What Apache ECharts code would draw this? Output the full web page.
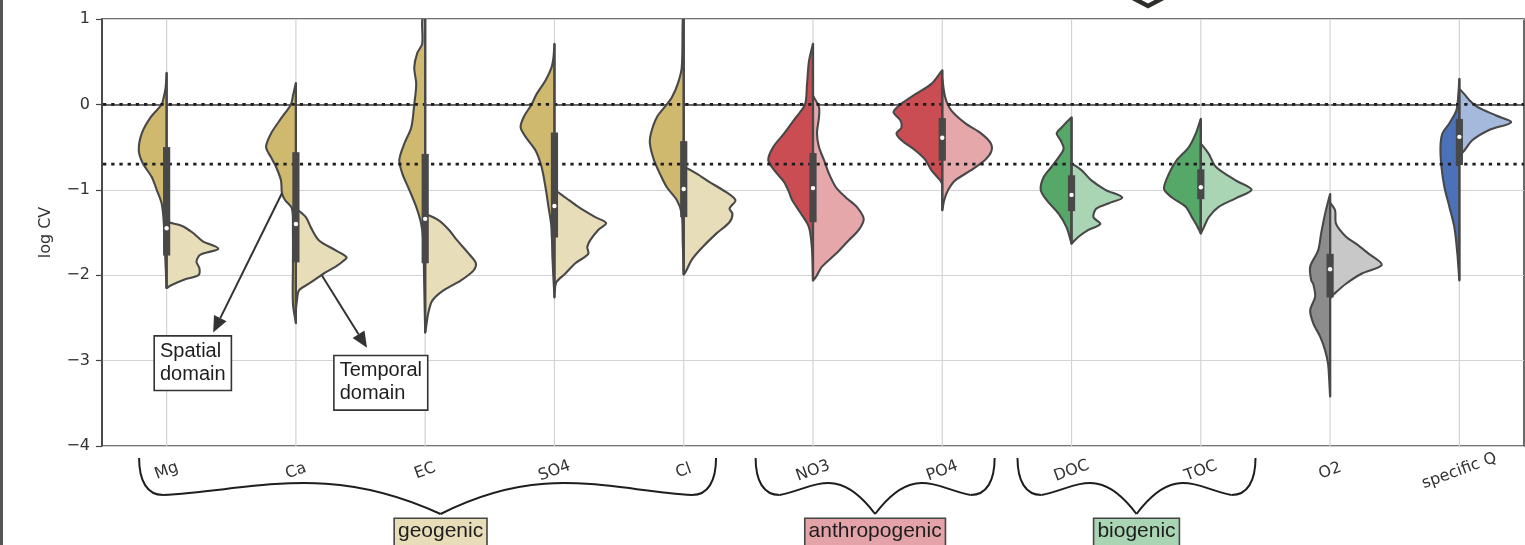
<!DOCTYPE html>
<html>
<head>
<meta charset="utf-8">
<title>log CV by parameter: spatial vs temporal domain</title>
<script src="https://cdn.jsdelivr.net/npm/echarts@6/dist/echarts.min.js"></script>
<style>
  html, body { margin: 0; padding: 0; background: #fff; }
  #chart { width: 1525px; height: 545px; }
</style>
</head>
<body>
<div id="chart"></div>
<script>
// ---------- data ----------
const categories = ['Mg', 'Ca', 'EC', 'SO4', 'Cl', 'NO3', 'PO4', 'DOC', 'TOC', 'O2', 'specific Q'];

// box statistics of log CV (both domains pooled)
const q1 = [-1.77, -1.85, -1.86, -1.56, -1.32, -1.38, -0.66, -1.25, -1.11, -2.26, -0.71];
const q3 = [-0.50, -0.56, -0.58, -0.33, -0.43, -0.57, -0.16, -0.83, -0.76, -1.75, -0.17];
const medians = [-1.45, -1.40, -1.34, -1.19, -0.99, -0.98, -0.39, -1.06, -0.97, -1.93, -0.38];
const whiskerLow = [-2.15, -2.56, -2.67, -2.26, -1.99, -2.06, -1.24, -1.63, -1.51, -3.42, -2.06];
const whiskerHigh = [0.37, 0.25, 1.10, 0.71, 1.10, 0.71, 0.40, -0.15, -0.17, -1.05, 0.30];

// reference levels: CV = 1 and CV = 0.2
const refLines = [0, -0.699];

// source groups of the parameters
const groupNames = ['geogenic', 'anthropogenic', 'biogenic'];
const groupFirst = [0, 5, 7];
const groupLast = [4, 6, 8];

// kernel density profiles, [log CV, relative density], left half = spatial domain
const spatialDensity = [
  [[0.37,0],[0.2,1],[0.08,3],[0,5],[-0.15,16],[-0.34,25],[-0.54,28],[-0.69,24],[-0.85,15],[-1.0,10],[-1.16,5],[-1.36,3],[-1.6,2],[-1.9,1],[-2.15,0]],
  [[0.25,0],[0.1,3],[0,5],[-0.15,14],[-0.34,25],[-0.5,30],[-0.62,25],[-0.73,20],[-0.89,15],[-1.04,14],[-1.12,11],[-1.22,4],[-1.5,3],[-1.9,3],[-2.33,3],[-2.56,0]],
  [[1.1,0],[0.98,3],[0.71,3],[0.6,8],[0.43,11],[0.24,9],[0,11],[-0.27,14],[-0.46,21],[-0.65,26],[-0.81,23],[-1.0,16],[-1.2,9],[-1.4,4],[-1.59,2],[-2.1,1],[-2.67,0]],
  [[0.71,0],[0.55,1],[0.43,3],[0.28,9],[0.12,18],[0,23],[-0.15,31],[-0.27,34],[-0.38,29],[-0.54,19],[-0.73,13],[-0.97,9],[-1.2,6],[-1.44,3],[-1.8,2],[-2.26,0]],
  [[1.1,0],[0.98,1],[0.43,2],[0.24,6],[0.08,12],[0,17],[-0.15,27],[-0.34,33],[-0.46,34],[-0.65,30],[-0.81,24],[-0.97,17],[-1.12,7],[-1.28,2],[-1.6,1],[-1.99,0]],
  [[0.71,0],[0.51,4],[0.24,6],[0,8],[-0.15,17],[-0.34,29],[-0.5,40],[-0.65,45],[-0.77,39],[-0.91,29],[-1.03,24],[-1.12,21],[-1.28,12],[-1.44,4],[-1.7,1],[-2.06,0]],
  [[0.4,0],[0.24,11],[0.12,27],[0.01,41],[-0.09,49],[-0.19,42],[-0.27,41],[-0.34,46],[-0.42,41],[-0.54,27],[-0.65,17],[-0.77,11],[-0.89,2],[-0.93,0]],
  [[-0.15,0],[-0.27,10],[-0.34,15],[-0.42,11],[-0.52,8],[-0.62,13],[-0.73,20],[-0.85,28],[-1.0,31],[-1.12,25],[-1.28,13],[-1.44,5],[-1.59,1],[-1.63,0]],
  [[-0.17,0],[-0.34,5],[-0.5,12],[-0.65,24],[-0.81,32],[-0.99,37],[-1.09,29],[-1.2,15],[-1.32,9],[-1.44,3],[-1.51,0]],
  [[-1.05,0],[-1.28,5],[-1.51,9],[-1.71,12],[-1.9,20],[-2.06,19],[-2.1,17],[-2.25,15],[-2.41,20],[-2.56,17],[-2.72,10],[-2.88,5],[-3.04,2],[-3.2,1],[-3.42,0]],
  [[0.3,0],[0.12,1],[-0.07,3],[-0.22,10],[-0.34,17],[-0.5,19],[-0.73,18],[-0.97,15],[-1.2,10],[-1.44,5],[-1.75,2],[-2.06,0]]
];

// right half = temporal domain
const temporalDensity = [
  [[-1.36,0],[-1.38,2],[-1.42,15],[-1.5,26],[-1.6,36],[-1.69,52],[-1.76,34],[-1.84,30],[-1.92,33],[-2.0,32],[-2.05,18],[-2.12,4],[-2.15,0]],
  [[-1.22,0],[-1.32,10],[-1.44,15],[-1.59,23],[-1.71,40],[-1.79,51],[-1.84,47],[-1.9,40],[-1.98,28],[-2.02,23],[-2.1,13],[-2.18,3],[-2.3,1],[-2.4,0]],
  [[-1.28,0],[-1.36,14],[-1.47,24],[-1.59,32],[-1.75,44],[-1.86,51],[-1.94,49],[-2.06,36],[-2.18,18],[-2.3,7],[-2.45,3],[-2.6,1],[-2.67,0]],
  [[-1.0,0],[-1.09,11],[-1.2,24],[-1.32,41],[-1.39,52],[-1.47,44],[-1.59,36],[-1.67,33],[-1.75,34],[-1.86,21],[-1.98,11],[-2.08,2],[-2.2,0]],
  [[-0.73,0],[-0.81,13],[-0.91,26],[-1.0,39],[-1.12,52],[-1.22,46],[-1.28,49],[-1.38,46],[-1.51,33],[-1.67,19],[-1.82,8],[-1.96,2],[-1.99,0]],
  [[0.1,0],[-0.03,6],[-0.15,6],[-0.34,4],[-0.5,6],[-0.65,11],[-0.81,16],[-0.97,23],[-1.09,33],[-1.2,44],[-1.34,51],[-1.47,46],[-1.59,36],[-1.75,23],[-1.9,9],[-2.02,3],[-2.06,0]],
  [[0.3,0],[0.08,3],[-0.07,9],[-0.22,23],[-0.34,39],[-0.46,49],[-0.56,49],[-0.65,43],[-0.77,29],[-0.89,13],[-1.0,6],[-1.12,2],[-1.24,0]],
  [[-0.69,0],[-0.77,10],[-0.89,20],[-1.0,34],[-1.09,51],[-1.16,37],[-1.22,25],[-1.32,22],[-1.4,29],[-1.47,17],[-1.55,7],[-1.63,0]],
  [[-0.46,0],[-0.58,8],[-0.73,15],[-0.89,35],[-1.0,51],[-1.1,35],[-1.2,18],[-1.32,8],[-1.44,3],[-1.51,0]],
  [[-1.15,0],[-1.24,5],[-1.4,6],[-1.55,16],[-1.63,26],[-1.75,39],[-1.88,52],[-1.98,32],[-2.1,16],[-2.22,4],[-2.27,0]],
  [[0.18,0],[0.12,5],[0.05,10],[-0.03,18],[-0.13,37],[-0.21,52],[-0.3,30],[-0.42,13],[-0.54,5],[-0.6,0]]
];

// ---------- styles ----------
const GEO = ['#cfb96f', '#e7ddb9'];
const ANTHRO = ['#c94d53', '#e5a7aa'];
const BIO = ['#56a868', '#aad5b4'];
const OXY = ['#8c8c8c', '#c8c8c8'];
const FLOW = ['#4b72b8', '#a5b9dd'];
const halfColors = [GEO, GEO, GEO, GEO, GEO, ANTHRO, ANTHRO, BIO, BIO, OXY, FLOW];
const groupFill = ['#e7ddb9', '#e3a3a8', '#aad5b4'];
const EDGE = '#484848';
const TICK_FONT = '"DejaVu Sans", sans-serif';
const NOTE_FONT = '"Liberation Sans", Arial, sans-serif';
const DENSITY_MAX = 52;   // widest half-violin spans 0.4 of a category band

const chart = echarts.init(document.getElementById('chart'), null, { renderer: 'canvas' });

function halfPoints(api, idx, profile, side, k) {
  const cx = api.coord([idx, 0])[0];
  const pts = profile.map(([v, d]) => [cx + side * d * k, api.coord([idx, v])[1]]);
  const yTop = pts[0][1];
  const yBot = pts[pts.length - 1][1];
  // keep the closing edge on the centre line straight under smoothing
  pts.push([cx, yBot - 1], [cx, yTop + 1]);
  return pts;
}

const indexData = categories.map((c, i) => [i, medians[i]]);

// rotated tick labels, centred on the tick; longer names sit a little lower
const xLabels = categories.map(c => ({
  value: c,
  textStyle: {
    align: 'center', verticalAlign: 'middle',
    padding: [Math.max(0, c.length - 3) * 6, 0, 0, 0]
  }
}));

const option = {
  animation: false,
  grid: { left: 102, right: 1, top: 19, bottom: 99, show: true, borderColor: '#444', borderWidth: 1.6 },
  xAxis: {
    type: 'category',
    data: xLabels,
    boundaryGap: true,
    axisLine: { lineStyle: { color: '#444', width: 1.6 } },
    axisTick: { alignWithLabel: true, length: 6, lineStyle: { color: '#444', width: 1.2 } },
    axisLabel: {
      interval: 0, rotate: 20, align: 'center', verticalAlign: 'middle', margin: 25,
      fontFamily: TICK_FONT, fontSize: 16, color: '#333'
    },
    splitLine: { show: false }
  },
  yAxis: {
    type: 'value', min: -4, max: 1, interval: 1,
    name: 'log CV', nameLocation: 'middle', nameGap: 48,
    nameTextStyle: { fontFamily: TICK_FONT, fontSize: 16, color: '#333' },
    axisLine: { show: true, lineStyle: { color: '#444', width: 1.6 } },
    axisTick: { show: true, length: 6, lineStyle: { color: '#444', width: 1.2 } },
    axisLabel: {
      margin: 12, fontFamily: TICK_FONT, fontSize: 16, color: '#333',
      formatter: v => String(v).replace('-', '\u2212')
    },
    splitLine: { lineStyle: { color: '#d3d3d3', width: 1.2 } }
  },
  series: [
    {
      // vertical grid lines through each category
      type: 'custom', z: 1, silent: true,
      encode: { x: 0, y: 1 },
      data: indexData,
      renderItem(params, api) {
        const cx = api.coord([api.value(0), 0])[0];
        const cs = params.coordSys;
        return {
          type: 'line',
          shape: { x1: cx, y1: cs.y, x2: cx, y2: cs.y + cs.height },
          style: { stroke: '#d3d3d3', lineWidth: 1.2 }
        };
      }
    },
    {
      // split violins: spatial (left) and temporal (right)
      type: 'custom', z: 2, clip: true,
      encode: { x: 0, y: 1 },
      data: indexData,
      renderItem(params, api) {
        const i = api.value(0);
        const band = api.size([1, 0])[0];
        const k = band * 0.4 / DENSITY_MAX;
        const [dark, light] = halfColors[i];
        const edge = { stroke: EDGE, lineWidth: 2.1, lineJoin: 'round' };
        return {
          type: 'group',
          children: [
            { type: 'polygon', shape: { points: halfPoints(api, i, spatialDensity[i], -1, k), smooth: 0.3 },
              style: Object.assign({ fill: dark }, edge) },
            { type: 'polygon', shape: { points: halfPoints(api, i, temporalDensity[i], 1, k), smooth: 0.3 },
              style: Object.assign({ fill: light }, edge) }
          ]
        };
      }
    },
    {
      // dotted reference levels
      type: 'custom', z: 3, silent: true,
      encode: { x: 0, y: 1 },
      data: refLines.map(v => [0, v]),
      renderItem(params, api) {
        const y = api.coord([0, api.value(1)])[1];
        const cs = params.coordSys;
        return {
          type: 'line',
          shape: { x1: cs.x + 1, y1: y, x2: cs.x + cs.width, y2: y },
          style: { stroke: '#1e1e1e', lineWidth: 2.8, lineDash: [3.3, 4.9], lineCap: 'butt' }
        };
      }
    },
    {
      // inner box: whisker, interquartile bar, median
      type: 'custom', z: 4, clip: true,
      encode: { x: 0, y: 1 },
      data: indexData,
      renderItem(params, api) {
        const i = api.value(0);
        const cx = api.coord([i, 0])[0];
        const yOf = v => api.coord([i, v])[1];
        return {
          type: 'group',
          children: [
            { type: 'line', shape: { x1: cx, y1: yOf(whiskerHigh[i]), x2: cx, y2: yOf(whiskerLow[i]) },
              style: { stroke: EDGE, lineWidth: 2.2 } },
            { type: 'rect', shape: { x: cx - 3.6, y: yOf(q3[i]), width: 7.2, height: yOf(q1[i]) - yOf(q3[i]) },
              style: { fill: EDGE } },
            { type: 'circle', shape: { cx: cx, cy: yOf(medians[i]), r: 2.2 }, style: { fill: '#ffffff' } }
          ]
        };
      }
    }
  ]
};

chart.setOption(option);

// ---------- annotations placed from the axes ----------
const pt = (idx, v) => chart.convertToPixel({ gridIndex: 0 }, [idx, v]);
const bandPx = pt(1, 0)[0] - pt(0, 0)[0];
const at = (idx, dxBand, v) => { const p = pt(idx, v); return [p[0] + dxBand * bandPx, p[1]]; };

function arrow(from, to) {
  const dx = to[0] - from[0], dy = to[1] - from[1];
  const len = Math.hypot(dx, dy);
  const ux = dx / len, uy = dy / len;
  const hl = 16, hw = 7;
  const base = [to[0] - ux * hl, to[1] - uy * hl];
  return [
    { type: 'line', z: 20, shape: { x1: from[0], y1: from[1], x2: base[0], y2: base[1] },
      style: { stroke: '#333', lineWidth: 2 } },
    { type: 'polygon', z: 20, shape: { points: [to, [base[0] - uy * hw, base[1] + ux * hw], [base[0] + uy * hw, base[1] - ux * hw]] },
      style: { fill: '#333' } }
  ];
}

function noteBox(pos, text) {
  return {
    type: 'text', z: 21, x: pos[0], y: pos[1],
    style: {
      text: text, font: '20px ' + NOTE_FONT, fill: '#1e1e1e', lineHeight: 23,
      align: 'left', verticalAlign: 'top',
      backgroundColor: '#ffffff', borderColor: '#333', borderWidth: 1.6, padding: [3, 5, 4, 5]
    }
  };
}

// curly brace as four cubic segments: left hook, left arm, right arm, right hook
function braceCurves(xl, xr, xt, yTop, yBase, yTip) {
  const r = 24, hump = 32;
  const dl = xt - (xl + r), dr = (xr - r) - xt;
  const segs = [
    [xl, yTop, xl, yBase - 14, xl + 8, yBase, xl + r, yBase],
    [xl + r, yBase, xl + r + 0.35 * dl, yBase - 6, xl + r + 0.6 * dl, yBase - hump, xt, yTip],
    [xt, yTip, xt + 0.4 * dr, yBase - hump, xt + 0.65 * dr, yBase - 6, xr - r, yBase],
    [xr - r, yBase, xr - 8, yBase, xr, yBase - 14, xr, yTop]
  ];
  return segs.map(s => ({
    type: 'bezierCurve', z: 20,
    shape: { x1: s[0], y1: s[1], cpx1: s[2], cpy1: s[3], cpx2: s[4], cpy2: s[5], x2: s[6], y2: s[7] },
    style: { fill: null, stroke: '#1e1e1e', lineWidth: 2 }
  }));
}

// brace extents in bands around the first / last category, tip offset in px
const braceSpan = [[-0.213, 0.25, 13], [-0.444, 0.405, 0], [-0.418, 0.423, 0]];
const graphics = [];

groupNames.forEach((name, g) => {
  const xl = pt(groupFirst[g], 0)[0] + braceSpan[g][0] * bandPx;
  const xr = pt(groupLast[g], 0)[0] + braceSpan[g][1] * bandPx;
  const xt = (xl + xr) / 2 + braceSpan[g][2];
  graphics.push(...braceCurves(xl, xr, xt, 458, 495, 514));
  graphics.push({
    type: 'text', z: 21, x: xt, y: 519,
    style: {
      text: name, font: '21px ' + NOTE_FONT, fill: '#1e1e1e', lineHeight: 24,
      align: 'center', verticalAlign: 'top',
      backgroundColor: groupFill[g], borderColor: '#444', borderWidth: 1.6, padding: [0, 3, 2, 3]
    }
  });
});

// spatial / temporal domain call-outs on the Ca violin
graphics.push(...arrow(at(1, -0.108, -1.04), at(0, 0.36, -2.67)));
graphics.push(...arrow(at(1, 0.2, -2.0), at(1, 0.55, -2.85)));
graphics.push(noteBox(at(0, -0.09, -2.72), 'Spatial\ndomain'));
graphics.push(noteBox(at(1, 0.3, -2.95), 'Temporal\ndomain'));

// page frame details
graphics.push({ type: 'rect', z: 30, shape: { x: 0, y: 0, width: 3, height: 545 }, style: { fill: '#555' } });
graphics.push({
  type: 'polyline', z: 30,
  shape: { points: [[1131, -3], [1148, 6], [1165, -3]] },
  style: { stroke: '#2e2e2a', lineWidth: 4.5, lineJoin: 'miter', fill: null }
});

chart.setOption({ graphic: graphics });
</script>
</body>
</html>
